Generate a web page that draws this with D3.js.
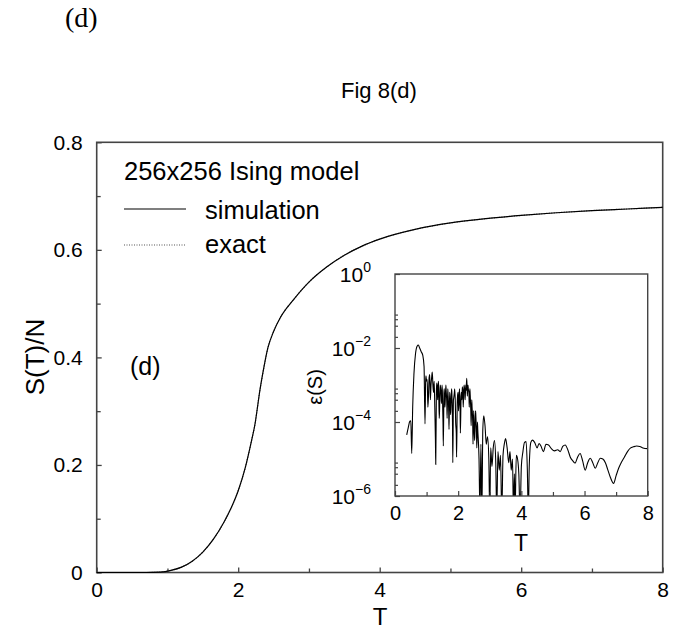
<!DOCTYPE html>
<html><head><meta charset="utf-8">
<script src="https://cdn.jsdelivr.net/npm/d3@7"></script>
<style>body{margin:0;background:#fff} text{font-family:"Liberation Sans",Arial,sans-serif;fill:#000}</style>
</head><body><svg id="c" width="681" height="630"></svg>
<script>
// ---- main chart data: entropy per spin S(T)/N ----
const temps = [0,0.7,0.9,1.05,1.2,1.35,1.5,1.65,1.8,1.9,2.0,2.1,2.19,2.24,2.27,2.30,2.35,2.42,2.5,2.6,2.78,3.0,3.25,3.5,3.75,4.0,4.5,5.0,5.5,6.0,6.5,7.0,7.5,8.0];
const entropyExact = [0,0,0.0008,0.004,0.010,0.021,0.038,0.062,0.094,0.120,0.152,0.195,0.246,0.278,0.305,0.333,0.372,0.418,0.448,0.475,0.507,0.540,0.568,0.590,0.607,0.620,0.638,0.650,0.658,0.664,0.669,0.673,0.676,0.679];
const entropySim = [0,0,0.0008,0.004,0.010,0.021,0.038,0.062,0.094,0.120,0.152,0.195,0.246,0.278,0.305,0.333,0.372,0.418,0.448,0.475,0.507,0.540,0.568,0.590,0.607,0.620,0.638,0.650,0.658,0.664,0.669,0.673,0.676,0.679];
const mainXTicks = [0,2,4,6,8];
const mainXMinor = [1,3,5,7];
const mainYTicks = [0,0.2,0.4,0.6,0.8];
const mainYMinor = [0.1,0.3,0.5,0.7];
const legendLabels = ["simulation","exact"];

// ---- inset data: relative error eps(S), given as log10 exponents ----
const errT = [0.37,0.42,0.47,0.50,0.53,0.56,0.60,0.65,0.70,0.74,0.78,0.83,0.88,0.92,
 0.95,0.97,0.98,1.00,1.02,1.04,1.06,1.08,1.10,1.12,1.14,1.16,1.18,1.20,1.22,1.24,1.26,1.28,1.29,1.31,1.32,1.34,1.35,1.37,1.38,1.40,1.41,1.43,1.44,1.46,1.47,1.49,1.50,1.52,1.53,1.55,1.56,1.58,1.59,1.61,1.62,1.64,1.65,1.67,1.68,1.70,1.71,1.73,1.74,1.76,1.77,1.79,1.80,1.82,1.83,1.85,1.86,1.88,1.89,1.91,1.92,1.94,1.95,1.97,1.98,2.00,2.01,2.03,2.04,2.06,2.07,2.09,2.10,2.12,2.13,2.15,2.16,2.18,2.19,2.21,2.22,2.24,2.25,2.27,2.28,2.29,2.31,2.32,2.34,2.35,2.37,2.38,2.40,2.41,2.43,2.44,2.46,2.47,2.49,2.50,2.52,2.53,2.55,2.56,2.58,2.59,2.61,2.62,
 2.66,2.69,2.72,2.75,2.78,2.81,2.85,2.89,2.93,2.97,3.00,3.03,3.07,3.11,3.15,3.19,3.22,3.26,3.30,3.34,3.38,3.42,3.46,3.50,3.55,3.60,3.64,3.68,3.72,3.75,3.78,3.80,3.84,3.88,3.92,3.96,4.00,4.05,4.10,4.15,4.19,4.22,4.25,4.30,4.35,4.42,4.50,4.56,4.62,4.70,4.78,4.86,4.95,5.05,5.15,5.23,5.31,5.39,5.47,5.55,5.63,5.70,5.78,5.86,5.94,6.02,6.10,6.18,6.26,6.34,6.42,6.50,6.58,6.66,6.74,6.82,6.92,7.00,7.08,7.16,7.26,7.36,7.46,7.55,7.65,7.75,7.85,8.00];
const errExp = [-4.35,-4.15,-3.98,-3.97,-4.85,-3.6,-2.7,-2.15,-1.95,-1.92,-2.0,-2.1,-2.2,-2.5,
 -4.05,-2.9,-2.75,-2.9,-2.85,-3.6,-3.3,-2.8,-2.72,-3.4,-3.0,-2.8,-2.65,-3.0,-3.2,-2.9,-3.6,-4.5,-5.15,-3.2,-2.95,-3.1,-3.4,-2.9,-3.0,-3.9,-3.7,-3.0,-3.05,-3.3,-3.5,-3.0,-3.2,-4.0,-4.65,-3.2,-3.1,-3.6,-3.45,-3.0,-3.15,-3.5,-3.9,-3.1,-3.25,-3.7,-4.2,-3.2,-3.3,-3.8,-3.6,-3.1,-3.2,-4.0,-5.1,-3.4,-3.35,-3.2,-3.1,-3.5,-4.0,-4.3,-4.95,-3.5,-3.3,-3.2,-3.7,-3.4,-3.1,-3.6,-4.3,-3.4,-3.2,-3.4,-3.05,-3.2,-3.6,-3.1,-3.0,-3.2,-3.4,-3.0,-3.15,-2.82,-3.0,-3.3,-3.0,-3.1,-3.2,-3.6,-3.1,-3.25,-3.7,-4.1,-3.4,-3.6,-4.0,-4.6,-3.7,-3.9,-4.5,-4.3,-3.7,-3.85,-4.3,-4.7,-4.0,-4.2,
 -5.0,-6.5,-4.6,-6.5,-4.2,-3.83,-4.1,-4.6,-4.4,-5.0,-6.5,-4.7,-5.2,-4.7,-4.5,-5.1,-6.5,-4.8,-5.3,-4.9,-6.5,-4.9,-4.6,-4.45,-4.7,-5.1,-4.8,-5.3,-5.0,-6.5,-5.4,-6.5,-4.9,-5.0,-5.4,-6.5,-5.2,-4.8,-4.55,-4.53,-5.3,-6.5,-5.2,-4.55,-4.49,-4.55,-4.7,-4.58,-4.65,-4.8,-4.6,-4.62,-4.72,-4.78,-4.75,-4.8,-4.66,-4.62,-4.75,-4.95,-5.05,-5.11,-4.95,-4.85,-5.05,-5.3,-5.1,-4.98,-5.1,-5.25,-5.1,-4.98,-5.0,-5.1,-5.3,-5.5,-5.66,-5.45,-5.25,-5.1,-4.95,-4.8,-4.7,-4.67,-4.65,-4.66,-4.7,-4.72];
const insetXTicks = [0,2,4,6,8];
const insetXMinor = [1,3,5,7];
const insetYDecades = [0,-2,-4,-6];
const insetMinorMant = [2,4,6,8];
const insetMinorDecades = [-6,-4,-2];

const svg = d3.select("#c");
const frameCol = "#444";

// ---------- main plot ----------
const x = d3.scaleLinear().domain([0,8]).range([96.7,662.7]);
const y = d3.scaleLinear().domain([0,0.8]).range([572.5,142.3]);

svg.append("text").attr("x",65).attr("y",27).style("font-family","'Liberation Serif','DejaVu Serif',serif").style("font-size","28px").text("(d)");
svg.append("text").attr("x",341).attr("y",98).style("font-size","22px").text("Fig 8(d)");

const gx = svg.append("g").attr("transform","translate(0,572.5)");
gx.call(d3.axisBottom(x).tickValues(mainXTicks).tickSize(-5).tickPadding(10).tickFormat(d3.format("d")));
const gxm = svg.append("g").attr("transform","translate(0,572.5)");
gxm.call(d3.axisBottom(x).tickValues(mainXMinor).tickSize(-4).tickFormat(""));
const gy = svg.append("g").attr("transform","translate(96.7,0)");
gy.call(d3.axisLeft(y).tickValues(mainYTicks).tickSize(-5).tickPadding(14).tickFormat(d=>d===0?"0":d.toFixed(1)));
const gym = svg.append("g").attr("transform","translate(96.7,0)");
gym.call(d3.axisLeft(y).tickValues(mainYMinor).tickSize(-4).tickFormat(""));
[gx,gxm,gy,gym].forEach(g=>{g.select(".domain").remove();g.selectAll("line").attr("stroke",frameCol).attr("stroke-width",1.3);g.selectAll("text").style("font-size","21px").style("font-family","'Liberation Sans',Arial,sans-serif").attr("fill","#000");});

svg.append("rect").attr("x",x(0)).attr("y",y(0.8)).attr("width",x(8)-x(0)).attr("height",y(0)-y(0.8))
  .attr("fill","none").attr("stroke",frameCol).attr("stroke-width",1.6);

svg.append("text").attr("transform","translate(44,357) rotate(-90)").attr("text-anchor","middle").style("font-size","26px").text("S(T)/N");
svg.append("text").attr("x",380).attr("y",625).attr("text-anchor","middle").style("font-size","24px").text("T");

const line = d3.line().x((d,i)=>x(temps[i])).y(d=>y(d)).curve(d3.curveMonotoneX);
svg.append("path").datum(entropyExact).attr("d",line).attr("fill","none").attr("stroke","#555").attr("stroke-width",1.2).attr("stroke-dasharray","1,1.5");
svg.append("path").datum(entropySim).attr("d",line).attr("fill","none").attr("stroke","#000").attr("stroke-width",1.2);

// legend
svg.append("text").attr("x",124).attr("y",180).style("font-size","25.5px").text("256x256 Ising model");
svg.append("line").attr("x1",124).attr("x2",186).attr("y1",209).attr("y2",209).attr("stroke","#000").attr("stroke-width",1.2);
svg.append("line").attr("x1",124).attr("x2",186).attr("y1",245).attr("y2",245).attr("stroke","#555").attr("stroke-width",1.2).attr("stroke-dasharray","1,1.5");
svg.append("text").attr("x",205).attr("y",219).style("font-size","25.5px").text(legendLabels[0]);
svg.append("text").attr("x",205).attr("y",253).style("font-size","25.5px").text(legendLabels[1]);
svg.append("text").attr("x",130).attr("y",375).style("font-size","25px").text("(d)");

// ---------- inset ----------
const ix = d3.scaleLinear().domain([0,8]).range([395,647.7]);
const iy = d3.scaleLog().domain([1e-6,1]).range([496,274]);

svg.append("defs").append("clipPath").attr("id","ic").append("rect")
  .attr("x",ix(0)).attr("y",iy(1)).attr("width",ix(8)-ix(0)).attr("height",iy(1e-6)-iy(1));

const errVals = errExp.map(e=>Math.pow(10,e));
const iline = d3.line().x((d,i)=>ix(errT[i])).y(d=>iy(d)).curve(d3.curveMonotoneX);
svg.append("path").datum(errVals).attr("clip-path","url(#ic)").attr("d",iline).attr("fill","none").attr("stroke","#000").attr("stroke-width",1.1);

const ixg = svg.append("g").attr("transform","translate(0,496)");
ixg.call(d3.axisBottom(ix).tickValues(insetXTicks).tickSize(-5).tickPadding(10).tickFormat(d3.format("d")));
const ixm = svg.append("g").attr("transform","translate(0,496)");
ixm.call(d3.axisBottom(ix).tickValues(insetXMinor).tickSize(-4).tickFormat(""));
const majorVals = insetYDecades.map(e=>Math.pow(10,e));
const minorVals = [];
insetMinorDecades.forEach(e=>insetMinorMant.forEach(m=>minorVals.push(m*Math.pow(10,e))));
const iyg = svg.append("g").attr("transform","translate(395,0)");
iyg.call(d3.axisLeft(iy).tickValues(majorVals).tickSize(-5).tickFormat(""));
const iym = svg.append("g").attr("transform","translate(395,0)");
iym.call(d3.axisLeft(iy).tickValues(minorVals).tickSize(-3).tickFormat(""));
[ixg,ixm,iyg,iym].forEach(g=>{g.select(".domain").remove();g.selectAll("line").attr("stroke",frameCol).attr("stroke-width",1.2);g.selectAll("text").style("font-size","20px").style("font-family","'Liberation Sans',Arial,sans-serif").attr("fill","#000");});

insetYDecades.forEach(e=>{
  const t = svg.append("text").attr("x",371).attr("y",iy(Math.pow(10,e))+8).attr("text-anchor","end").style("font-size","21px");
  t.append("tspan").text("10");
  t.append("tspan").attr("dy",-10).style("font-size","14px").text(e===0?"0":"\u2212"+(-e));
});

svg.append("rect").attr("x",ix(0)).attr("y",iy(1)).attr("width",ix(8)-ix(0)).attr("height",iy(1e-6)-iy(1))
  .attr("fill","none").attr("stroke",frameCol).attr("stroke-width",1.4);

svg.append("text").attr("transform","translate(322,387) rotate(-90)").attr("text-anchor","middle").style("font-size","20px").text("\u03b5(S)");
svg.append("text").attr("x",521).attr("y",551).attr("text-anchor","middle").style("font-size","23px").text("T");
</script></body></html>
